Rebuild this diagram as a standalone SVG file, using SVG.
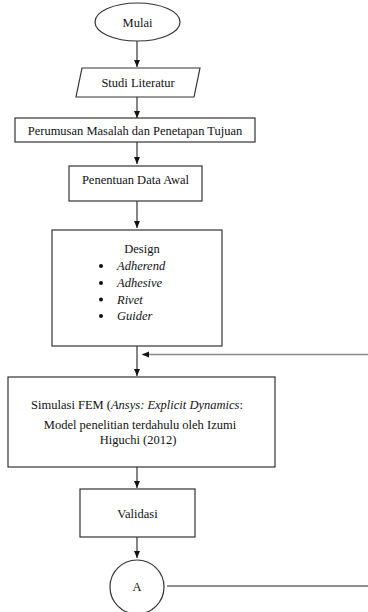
<svg xmlns="http://www.w3.org/2000/svg" width="368" height="612" viewBox="0 0 368 612" font-family="'Liberation Serif', 'DejaVu Serif', serif">
<style>
.s{fill:#fff;stroke:#333;stroke-width:1.2}
.t{font-family:'Liberation Serif','DejaVu Serif',serif;font-size:12.5px;fill:#111;text-anchor:middle}
.i{font-style:italic;text-anchor:start}
.c{stroke:#222;stroke-width:1.1;fill:none}
.g{stroke:#888;stroke-width:1.3;fill:none}
</style>
<defs>
<marker id="ah" markerWidth="8" markerHeight="8" refX="7" refY="4" orient="auto" markerUnits="userSpaceOnUse">
<path d="M0,1 L7,4 L0,7 Z" fill="#111"/>
</marker>
</defs>
<rect width="368" height="612" fill="#fff"/>
<g id="connectors">
<line class="c" x1="137" y1="41" x2="137" y2="67" marker-end="url(#ah)"/>
<line class="c" x1="137" y1="97" x2="137" y2="118" marker-end="url(#ah)"/>
<line class="c" x1="137" y1="142" x2="137" y2="164" marker-end="url(#ah)"/>
<line class="c" x1="137" y1="201" x2="137" y2="228" marker-end="url(#ah)"/>
<line class="c" x1="137" y1="346" x2="137" y2="376" marker-end="url(#ah)"/>
<line class="g" x1="368" y1="354.5" x2="142" y2="354.5" marker-end="url(#ah)"/>
<line class="c" x1="137" y1="467" x2="137" y2="488" marker-end="url(#ah)"/>
<line class="c" x1="137" y1="537" x2="137" y2="558" marker-end="url(#ah)"/>
<line class="c" x1="167" y1="586" x2="368" y2="586"/>
</g>
<g id="mulai">
<ellipse class="s" cx="137.5" cy="22" rx="42.5" ry="19"/>
<text class="t" x="137.5" y="26.5">Mulai</text>
</g>
<g id="studi">
<polygon class="s" points="82,68 200,68 194,97 76,97"/>
<text class="t" x="138" y="87">Studi Literatur</text>
</g>
<g id="perumusan">
<rect class="s" x="15" y="118" width="240" height="24"/>
<text class="t" x="135" y="134.5">Perumusan Masalah dan Penetapan Tujuan</text>
</g>
<g id="penentuan">
<rect class="s" x="69" y="166" width="133" height="35"/>
<text class="t" x="135.5" y="183.5">Penentuan Data Awal</text>
</g>
<g id="design">
<rect class="s" x="52" y="230" width="170" height="116"/>
<text class="t" x="142" y="253">Design</text>
<circle cx="101" cy="266" r="2" fill="#111"/>
<circle cx="101" cy="283" r="2" fill="#111"/>
<circle cx="101" cy="299.5" r="2" fill="#111"/>
<circle cx="101" cy="316" r="2" fill="#111"/>
<text class="t i" x="117" y="270">Adherend</text>
<text class="t i" x="117" y="287">Adhesive</text>
<text class="t i" x="117" y="303.5">Rivet</text>
<text class="t i" x="117" y="320">Guider</text>
</g>
<g id="simulasi">
<rect class="s" x="8" y="377" width="267" height="90"/>
<text class="t" x="137" y="409">Simulasi FEM (<tspan font-style="italic">Ansys: Explicit Dynamics</tspan>:</text>
<text class="t" x="140" y="429">Model penelitian terdahulu oleh Izumi</text>
<text class="t" x="138" y="444">Higuchi (2012)</text>
</g>
<g id="validasi">
<rect class="s" x="80" y="489" width="115" height="48"/>
<text class="t" x="137.5" y="518">Validasi</text>
</g>
<g id="a">
<circle class="s" cx="137" cy="587" r="27"/>
<text class="t" x="137" y="591" font-size="11px">A</text>
</g>
</svg>
